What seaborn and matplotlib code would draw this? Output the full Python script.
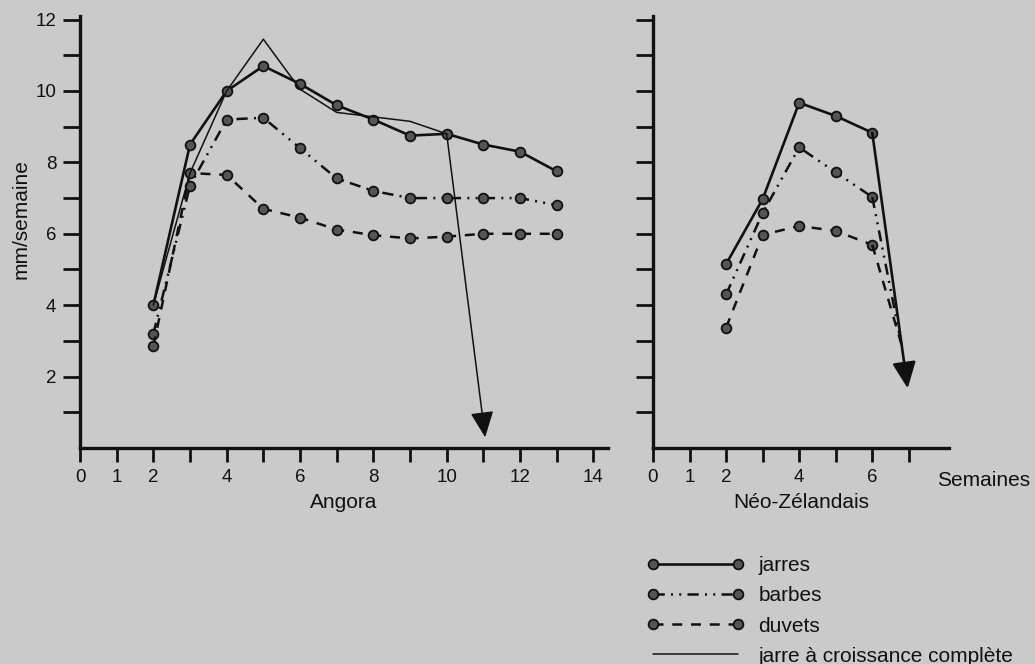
import numpy as np
import matplotlib
matplotlib.use('Agg')
import matplotlib.pyplot as plt
import seaborn as sns

# données (mm/semaine)
weeks_ang = [2, 3, 4, 5, 6, 7, 8, 9, 10, 11, 12, 13]
jarres_ang = [4.0, 8.5, 10.0, 10.7, 10.2, 9.6, 9.2, 8.75, 8.8, 8.5, 8.3, 7.75]
barbes_ang = [3.2, 7.35, 9.2, 9.25, 8.4, 7.55, 7.2, 7.0, 7.0, 7.0, 7.0, 6.8]
duvets_ang = [2.85, 7.7, 7.65, 6.7, 6.45, 6.12, 5.96, 5.87, 5.92, 6.0, 6.0, 6.0]

# jarre à croissance complète (Angora) + flèche de fin
weeks_full = [2, 3, 4, 5, 6, 7, 9, 10]
jarre_full = [4.0, 7.7, 10.0, 11.45, 10.05, 9.4, 9.15, 8.8]
arrow_ang_end = (11.05, 0.3)

weeks_nz = [2, 3, 4, 5, 6]
jarres_nz = [5.15, 6.97, 9.67, 9.3, 8.83]
barbes_nz = [4.3, 6.58, 8.42, 7.72, 7.03]
duvets_nz = [3.37, 5.97, 6.22, 6.08, 5.69]
tail_nz = (6.8, 2.9)
arrow_nz_end = (6.97, 1.67)

xlabels_ang = ['0', '1', '2', '', '4', '', '6', '', '8', '', '10', '', '12', '', '14']
xlabels_nz = ['0', '1', '2', '', '4', '', '6', '']
ylabels = ['', '2', '', '4', '', '6', '', '8', '', '10', '', '12']

bg = '#cacaca'
ink = '#111111'
mface = '#555555'

sns.set_theme(style='ticks')
plt.rcParams['font.family'] = ['Liberation Sans', 'DejaVu Sans']
plt.rcParams['font.size'] = 13

fig = plt.figure(figsize=(10.35, 6.64), dpi=100, facecolor=bg)
ax1 = fig.add_axes([80 / 1035, 1 - 448 / 664, 528 / 1035, 432 / 664])
ax2 = fig.add_axes([653 / 1035, 1 - 448 / 664, 296 / 1035, 432 / 664])

styles = {
    'jarres': dict(linestyle='-', lw=1.9),
    'barbes': dict(linestyle=(0, (4.5, 2.5, 0.8, 2.5, 0.8, 2.5)), lw=1.8),
    'duvets': dict(linestyle=(0, (4, 3.5)), lw=1.8),
}
mk = dict(marker='o', markersize=7, markerfacecolor=mface, markeredgecolor=ink, markeredgewidth=1.3)
arrow_style = '-|>,head_length=0.8,head_width=0.36'

for ax in (ax1, ax2):
    ax.set_facecolor(bg)
    for s in ('top', 'right'):
        ax.spines[s].set_visible(False)
    for s in ('left', 'bottom'):
        ax.spines[s].set_linewidth(2.4)
        ax.spines[s].set_color(ink)
    ax.set_ylim(0, 12.1)
    ax.set_yticks(range(1, 13))
    ax.tick_params(direction='out', width=2, color=ink, labelsize=13.5, pad=5, labelcolor=ink)
    ax.tick_params(axis='y', length=12)
    ax.tick_params(axis='x', length=10)
    ax.grid(False)

# Angora
sns.lineplot(x=weeks_ang, y=jarres_ang, ax=ax1, color=ink, label='jarres', **styles['jarres'], **mk)
sns.lineplot(x=weeks_ang, y=barbes_ang, ax=ax1, color=ink, label='barbes', **styles['barbes'], **mk)
sns.lineplot(x=weeks_ang, y=duvets_ang, ax=ax1, color=ink, label='duvets', **styles['duvets'], **mk)
sns.lineplot(x=weeks_full, y=jarre_full, ax=ax1, color=ink, lw=1.1, label='jarre à croissance complète')
ax1.annotate('', xy=arrow_ang_end, xytext=(weeks_full[-1], jarre_full[-1]),
             arrowprops=dict(arrowstyle=arrow_style, color=ink, lw=1.1, mutation_scale=20, shrinkA=0, shrinkB=0))

ax1.set_xlim(0, 14.4)
ax1.set_xticks(range(0, 15))
ax1.set_xticklabels(xlabels_ang)
ax1.set_yticklabels(ylabels)
ax1.set_xlabel('Angora', fontsize=15, labelpad=5, color=ink)
ax1.set_ylabel('mm/semaine', fontsize=15, color=ink)
ax1.yaxis.set_label_coords(-0.094, 0.53)

# Néo-Zélandais
sns.lineplot(x=weeks_nz, y=jarres_nz, ax=ax2, color=ink, **styles['jarres'], **mk)
sns.lineplot(x=weeks_nz, y=barbes_nz, ax=ax2, color=ink, **styles['barbes'], **mk)
sns.lineplot(x=weeks_nz, y=duvets_nz, ax=ax2, color=ink, **styles['duvets'], **mk)
sns.lineplot(x=[weeks_nz[-1], tail_nz[0]], y=[barbes_nz[-1], tail_nz[1]], ax=ax2, color=ink, **styles['barbes'])
sns.lineplot(x=[weeks_nz[-1], tail_nz[0]], y=[duvets_nz[-1], tail_nz[1]], ax=ax2, color=ink, **styles['duvets'])
ax2.annotate('', xy=arrow_nz_end, xytext=(weeks_nz[-1], jarres_nz[-1]),
             arrowprops=dict(arrowstyle=arrow_style, color=ink, lw=1.9, mutation_scale=20, shrinkA=0, shrinkB=0))

ax2.set_xlim(0, 8.1)
ax2.set_xticks(range(0, 8))
ax2.set_xticklabels(xlabels_nz)
ax2.set_yticklabels([''] * 12)
ax2.set_xlabel('Néo-Zélandais', fontsize=15, labelpad=5, color=ink)
fig.text(937 / 1035, 1 - 480 / 664, 'Semaines', fontsize=15, color=ink, va='center', ha='left')

# légende
handles, labels = ax1.get_legend_handles_labels()
ax1.get_legend().remove()
leg = fig.legend(handles, labels, loc='upper left', bbox_to_anchor=(647 / 1035, 1 - 556 / 664),
                 frameon=False, numpoints=2, handlelength=4.65, handletextpad=0.7,
                 labelspacing=0.54, borderpad=0, borderaxespad=0, fontsize=15)
for t in leg.get_texts():
    t.set_color(ink)

fig.savefig('out.png', dpi=100, facecolor=bg)
